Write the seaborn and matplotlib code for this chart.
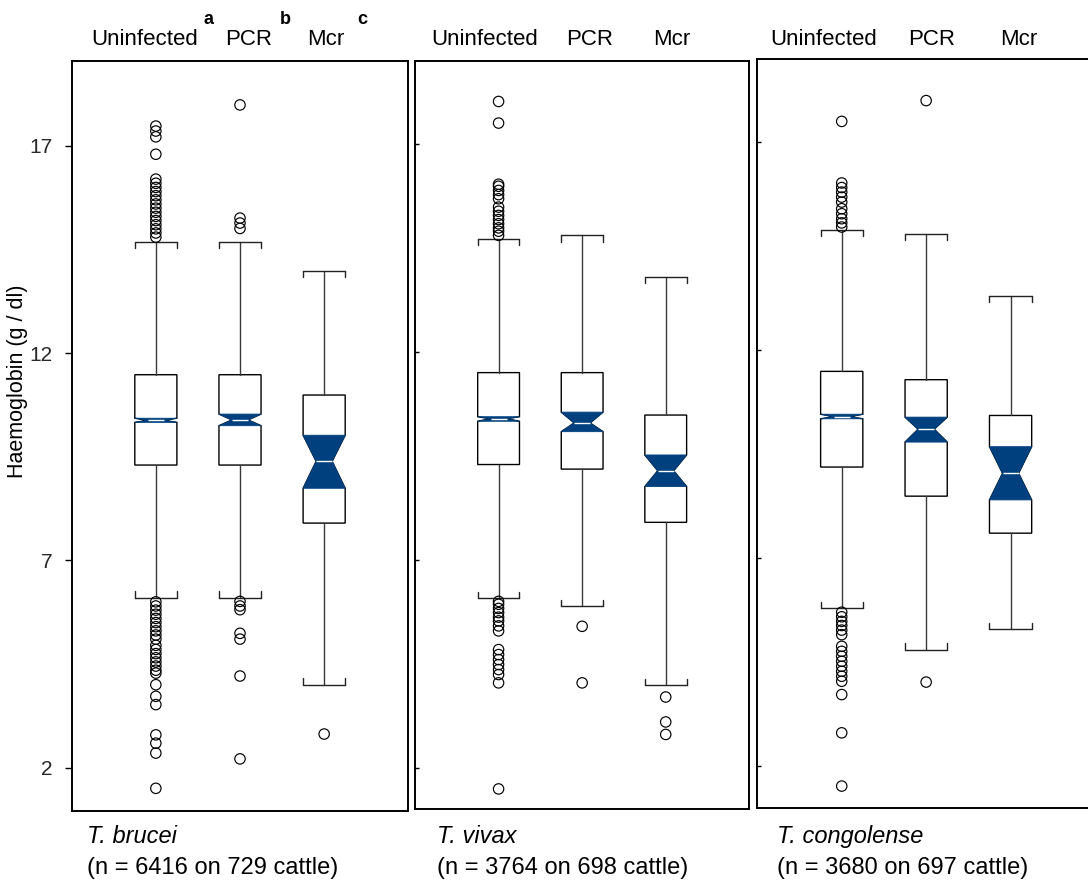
import numpy as np
import matplotlib
matplotlib.use("Agg")
import matplotlib.pyplot as plt
from matplotlib.path import Path
import seaborn as sns

# ---------------- data ----------------
groups = ["Uninfected", "PCR", "Mcr"]
letters = ["a", "b", "c"]
species = ["T. brucei", "T. vivax", "T. congolense"]
counts = ["(n = 6416 on 729 cattle)", "(n = 3764 on 698 cattle)", "(n = 3680 on 697 cattle)"]
yticks = [2, 7, 12, 17]

# T. brucei  [Uninfected, PCR, Mcr]
brucei_whislo = [6.10, 6.10, 4.00]
brucei_q1 = [9.30, 9.30, 7.90]
brucei_med = [10.38, 10.39, 9.39]
brucei_q3 = [11.48, 11.48, 10.99]
brucei_whishi = [14.68, 14.68, 13.99]
brucei_cilo = [10.33, 10.25, 8.74]
brucei_cihi = [10.43, 10.53, 10.02]
brucei_fliers_uninf = [17.48, 17.36, 17.22, 16.80, 16.2, 16.1, 16.0, 15.9, 15.8, 15.7, 15.6,
                       15.5, 15.4, 15.3, 15.2, 15.1, 15.0, 14.9, 14.8,
                       6.0, 5.9, 5.8, 5.7, 5.6, 5.5, 5.4, 5.3, 5.2, 5.1, 4.95, 4.85, 4.75,
                       4.65, 4.55, 4.45, 4.35, 4.28, 4.0, 3.72, 3.52, 2.79, 2.59, 2.35, 1.5]
brucei_fliers_pcr = [17.99, 15.26, 15.14, 15.01, 6.01, 5.90, 5.81, 5.24, 5.10, 4.21, 2.21]
brucei_fliers_mcr = [2.81]

# T. vivax
vivax_whislo = [6.08, 5.88, 3.99]
vivax_q1 = [9.29, 9.18, 7.90]
vivax_med = [10.39, 10.29, 9.14]
vivax_q3 = [11.50, 11.50, 10.48]
vivax_whishi = [14.71, 14.80, 13.80]
vivax_cilo = [10.33, 10.08, 8.76]
vivax_cihi = [10.44, 10.55, 9.52]
vivax_fliers_uninf = [18.02, 17.50, 16.03, 15.98, 15.88, 15.78, 15.68, 15.48, 15.38, 15.28,
                      15.18, 15.08, 14.98, 14.90, 14.80,
                      6.00, 5.93, 5.83, 5.73, 5.62, 5.53, 5.41, 5.29,
                      4.84, 4.72, 4.60, 4.48, 4.36, 4.24, 4.04, 1.49]
vivax_fliers_pcr = [5.40, 4.04]
vivax_fliers_mcr = [3.70, 3.10, 2.80]

# T. congolense
congo_whislo = [5.80, 4.80, 5.30]
congo_q1 = [9.19, 8.49, 7.60]
congo_med = [10.40, 10.10, 9.04]
congo_q3 = [11.49, 11.29, 10.43]
congo_whishi = [14.90, 14.80, 13.30]
congo_cilo = [10.35, 9.79, 8.40]
congo_cihi = [10.46, 10.39, 9.68]
congo_fliers_uninf = [17.50, 16.02, 15.91, 15.80, 15.68, 15.56, 15.40, 15.28, 15.16, 15.06,
                      14.96, 5.70, 5.59, 5.48, 5.38, 5.27, 5.16, 4.88, 4.76, 4.64, 4.52,
                      4.40, 4.28, 4.16, 4.04, 3.72, 2.80, 1.52]
congo_fliers_pcr = [18.00, 4.02]
congo_fliers_mcr = []

panels = [
    (brucei_whislo, brucei_q1, brucei_med, brucei_q3, brucei_whishi, brucei_cilo, brucei_cihi,
     [brucei_fliers_uninf, brucei_fliers_pcr, brucei_fliers_mcr]),
    (vivax_whislo, vivax_q1, vivax_med, vivax_q3, vivax_whishi, vivax_cilo, vivax_cihi,
     [vivax_fliers_uninf, vivax_fliers_pcr, vivax_fliers_mcr]),
    (congo_whislo, congo_q1, congo_med, congo_q3, congo_whishi, congo_cilo, congo_cihi,
     [congo_fliers_uninf, congo_fliers_pcr, congo_fliers_mcr]),
]

# ---------------- style ----------------
sns.set_theme(style="white")
plt.rcParams["font.family"] = ["Liberation Sans", "DejaVu Sans"]

W, H = 1088, 882
fig = plt.figure(figsize=(W / 100, H / 100), dpi=100)
fig.patch.set_facecolor("white")

BLUE = "#00407f"

# axes rectangles in pixels: left, right, top, bottom
rects = [(71.7, 408.3, 61.0, 810.7), (415.0, 749.3, 60.7, 809.3), (757.3, 1095.0, 59.0, 807.7)]
ylims = [(0.96, 19.05), (1.0, 19.0), (1.0, 19.0)]
label_x = [[145, 249, 326], [485, 590, 672], [824, 932, 1019]]
letter_x = [209, 285, 362]
text_x = [87, 437, 777]

positions = [1, 2, 3]
bw = 0.5

for k, ((wlo, q1, med, q3, whi, cilo, cihi, fl), (l, r, t, b)) in enumerate(zip(panels, rects)):
    ax = fig.add_axes([l / W, 1 - b / H, (r - l) / W, (b - t) / H])
    ax.set_facecolor("white")
    stats = []
    for i in range(3):
        stats.append(dict(med=med[i], q1=q1[i], q3=q3[i], whislo=wlo[i], whishi=whi[i],
                          cilo=cilo[i], cihi=cihi[i], fliers=[], label=groups[i]))
    res = ax.bxp(stats, positions=positions, widths=bw, shownotches=True, patch_artist=True,
                 showfliers=False, capwidths=bw,
                 boxprops=dict(facecolor="white", edgecolor="black", linewidth=1.0),
                 whiskerprops=dict(color="#3a3a3a", linewidth=1.0),
                 capprops=dict(color="#222222", linewidth=1.0),
                 medianprops=dict(color="white", linewidth=1.0))
    ax.set_xlim(0, 4)
    ax.set_ylim(*ylims[k])

    # narrow the notch a bit and fill the notch region in blue
    for i, patch in enumerate(res["boxes"]):
        p = positions[i]
        nw = bw * 0.19
        path = patch.get_path()
        v = path.vertices.copy()
        v[3, 0] = p + nw
        v[8, 0] = p - nw
        patch.set_path(Path(v, path.codes))
        poly_x = [p - bw / 2, p + bw / 2, p + nw, p + bw / 2, p - bw / 2, p - nw]
        poly_y = [cilo[i], cilo[i], med[i], cihi[i], cihi[i], med[i]]
        ax.fill(poly_x, poly_y, color=BLUE, lw=0.6, ec=BLUE, zorder=patch.get_zorder() + 0.1)
        mline = res["medians"][i]
        mline.set_xdata([p - nw, p + nw])
        mline.set_zorder(patch.get_zorder() + 0.2)

    # bracket ends on caps, pointing toward the box
    ylen = 0.15
    for j, cap in enumerate(res["caps"]):
        xs = cap.get_xdata()
        y = cap.get_ydata()[0]
        d = -ylen if j % 2 == 1 else ylen
        for xx in (xs[0], xs[1]):
            ax.plot([xx, xx], [y, y + d], color="#222222", lw=1.0)

    # outliers
    fx, fy = [], []
    for i in range(3):
        fx += [positions[i]] * len(fl[i])
        fy += list(fl[i])
    sns.scatterplot(x=fx, y=fy, ax=ax, marker="o", s=56, facecolor="none",
                    edgecolor="black", linewidth=0.85, zorder=5, legend=False)

    for sp in ax.spines.values():
        sp.set_visible(True)
        sp.set_color("black")
        sp.set_linewidth(1.4)
    ax.set_xticks([])
    ax.set_yticks(yticks)
    if k == 0:
        ax.tick_params(axis="y", direction="out", length=5, width=1, color="black",
                       labelsize=15, pad=9, left=True)
        ax.set_yticklabels([str(v) for v in yticks])
    else:
        ax.tick_params(axis="y", direction="in", length=3, width=1, color="black",
                       labelleft=False, left=True)
    ax.set_xlabel("")
    ax.set_ylabel("")

    for i in range(3):
        fig.text(label_x[k][i] / W, 1 - 45 / H, groups[i], ha="center", va="baseline",
                 fontsize=16, color="black")
    fig.text(text_x[k] / W, 1 - 843 / H, species[k], ha="left", va="baseline",
             fontsize=17, style="italic", color="black")
    fig.text(text_x[k] / W, 1 - 874 / H, counts[k], ha="left", va="baseline",
             fontsize=17, color="black")

for i in range(3):
    fig.text(letter_x[i] / W, 1 - 24 / H, letters[i], ha="center", va="baseline",
             fontsize=13, fontweight="bold", color="black")

fig.text(18 / W, 1 - 381 / H, "Haemoglobin (g / dl)", rotation=90, ha="center", va="center",
         fontsize=15.5, color="black")

fig.savefig("out.png", dpi=100)
